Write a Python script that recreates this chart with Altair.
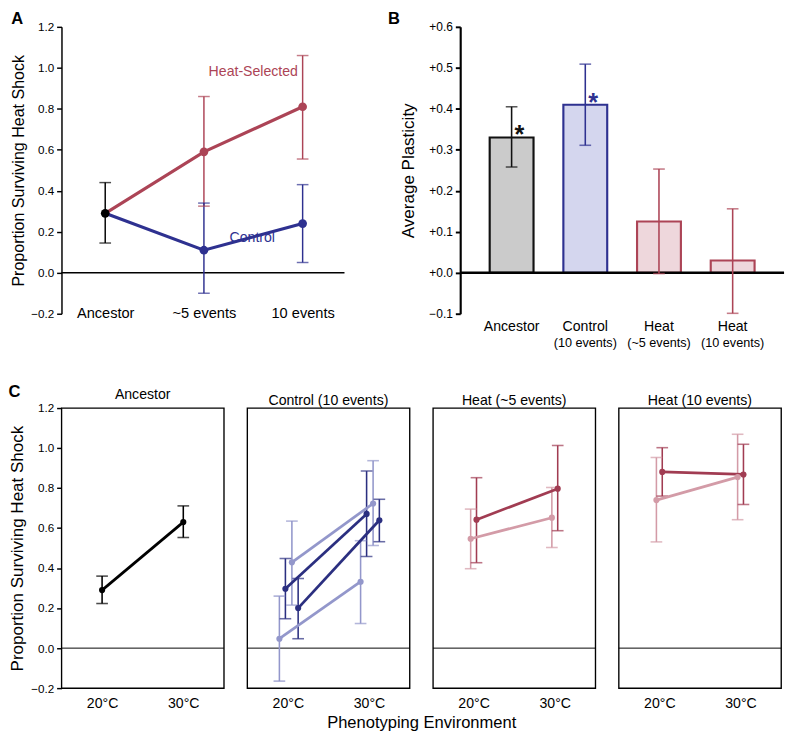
import json
import altair as alt
import pandas as pd

FONT = "Liberation Sans"

# ---------------- Panel A data ----------------
A_STAGES = ["Ancestor", "~5 events", "10 events"]
A_STAGE_IDX = [0, 1, 2]
A_ANC = 0.29
A_ANC_LO, A_ANC_HI = 0.145, 0.44
A_HEAT = [0.29, 0.59, 0.81]
A_HEAT_LO = [0.325, 0.555]
A_HEAT_HI = [0.86, 1.06]
A_CTRL = [0.29, 0.11, 0.24]
A_CTRL_LO = [-0.10, 0.05]
A_CTRL_HI = [0.34, 0.43]
A_NOTE_TEXT = ["Heat-Selected", "Control"]
A_NOTE_GROUP = ["Heat", "Control"]
A_NOTE_X = [1.5, 1.49]
A_NOTE_Y = [0.98, 0.17]
A_YTICKS = [-0.2, 0.0, 0.2, 0.4, 0.6, 0.8, 1.0, 1.2]

# ---------------- Panel B data ----------------
B_GROUPS = ["Ancestor", "Control (10 events)", "Heat (~5 events)", "Heat (10 events)"]
B_KIND = ["Ancestor", "Control", "Heat", "Heat"]
B_SUB = ["", "(10 events)", "(~5 events)", "(10 events)"]
B_VAL = [0.33, 0.41, 0.125, 0.03]
B_LO = [0.258, 0.311, -0.002, -0.099]
B_HI = [0.405, 0.509, 0.253, 0.156]
B_STAR = ["*", "*", "", ""]
B_YTICKS = [-0.1, 0.0, 0.1, 0.2, 0.3, 0.4, 0.5, 0.6]

# ---------------- Panel C data ----------------
C_PANELS = ["Ancestor", "Control (10 events)", "Heat (~5 events)", "Heat (10 events)"]
C_CONDS = ["20°C", "30°C"]
C_LINE_PANEL = ["Ancestor",
                "Control (10 events)", "Control (10 events)",
                "Control (10 events)", "Control (10 events)",
                "Heat (~5 events)", "Heat (~5 events)",
                "Heat (10 events)", "Heat (10 events)"]
C_LINE_SHADE = ["anc", "ctrl_light", "ctrl_light", "ctrl_dark", "ctrl_dark",
                "heat_light", "heat_dark", "heat_light", "heat_dark"]
C_DODGE = [0.0, -0.104, 0.05, -0.03, 0.127, -0.036, 0.036, -0.036, 0.036]
C_20 = [0.29, 0.047, 0.429, 0.297, 0.20, 0.547, 0.642, 0.740, 0.881]
C_20_LO = [0.223, -0.165, 0.215, 0.147, 0.047, 0.397, 0.427, 0.531, 0.760]
C_20_HI = [0.36, 0.26, 0.635, 0.448, 0.348, 0.695, 0.852, 0.953, 1.002]
C_30 = [0.63, 0.332, 0.723, 0.671, 0.639, 0.652, 0.797, 0.855, 0.868]
C_30_LO = [0.553, 0.123, 0.513, 0.458, 0.532, 0.503, 0.587, 0.642, 0.718]
C_30_HI = [0.711, 0.537, 0.937, 0.885, 0.744, 0.803, 1.013, 1.069, 1.019]
C_YTICKS = A_YTICKS

# ---------------- colours ----------------
HEAT_A = "#ac4456"
CTRL_A = "#2e3190"
SHADE_DOMAIN = ["anc", "ctrl_light", "ctrl_dark", "heat_light", "heat_dark"]
SHADE_RANGE = ["#000000", "#9397cb", "#2b2f80", "#d39ba7", "#a13c52"]

# ======================= Panel A =======================
A_W, A_H = 291, 295
a_line_df = pd.DataFrame({
    "stage": A_STAGE_IDX * 2,
    "value": A_HEAT + A_CTRL,
    "group": ["Heat"] * 3 + ["Control"] * 3,
})
a_err_df = pd.DataFrame({
    "stage": [0, 1, 2, 1, 2],
    "lo": [A_ANC_LO] + A_HEAT_LO + A_CTRL_LO,
    "hi": [A_ANC_HI] + A_HEAT_HI + A_CTRL_HI,
    "group": ["Ancestor", "Heat", "Heat", "Control", "Control"],
})
a_pt_df = pd.DataFrame({
    "stage": [1, 2, 1, 2, 0],
    "value": A_HEAT[1:] + A_CTRL[1:] + [A_ANC],
    "group": ["Heat", "Heat", "Control", "Control", "Ancestor"],
})
a_note_df = pd.DataFrame({"x": A_NOTE_X, "y": A_NOTE_Y, "text": A_NOTE_TEXT, "group": A_NOTE_GROUP})
a_zero_df = pd.DataFrame({"z": [0.0]})

a_color = alt.Scale(domain=["Ancestor", "Heat", "Control"], range=["#000000", HEAT_A, CTRL_A])
a_xscale = alt.Scale(domain=[-0.443, 2.424], nice=False, zero=False)
a_xaxis = alt.Axis(values=A_STAGE_IDX,
                   labelExpr=json.dumps(A_STAGES) + "[datum.value]",
                   ticks=False, tickSize=0, domain=False, grid=False,
                   labelFontSize=15, labelPadding=-1, labelBaseline="middle")
a_yscale = alt.Scale(domain=[-0.2, 1.2], nice=False, zero=False)
a_yaxis = alt.Axis(values=A_YTICKS, format=".1f", grid=False,
                   title="Proportion Surviving Heat Shock", titleFontSize=16.5,
                   titleFontWeight="normal", titlePadding=4,
                   labelFontSize=12, labelPadding=3, tickSize=5, tickWidth=1.5,
                   domainWidth=1.5)


def ax(field):
    return alt.X(field, scale=a_xscale, axis=a_xaxis, title=None)


def ay(field):
    return alt.Y(field, scale=a_yscale, axis=a_yaxis)


a_col = alt.Color("group:N", scale=a_color, legend=None)
a_base = alt.Chart(a_err_df)
a_zero = alt.Chart(a_zero_df).mark_rule(color="black", strokeWidth=1.3).encode(y=ay("z:Q"))
a_err = a_base.mark_rule(strokeWidth=1.5).encode(x=ax("stage:Q"), y=ay("lo:Q"), y2="hi:Q", color=a_col)
a_cap_lo = a_base.mark_tick(orient="horizontal", size=12, thickness=1.5).encode(
    x=ax("stage:Q"), y=ay("lo:Q"), color=a_col)
a_cap_hi = a_base.mark_tick(orient="horizontal", size=12, thickness=1.5).encode(
    x=ax("stage:Q"), y=ay("hi:Q"), color=a_col)
a_lines = alt.Chart(a_line_df).mark_line(strokeWidth=3.2).encode(
    x=ax("stage:Q"), y=ay("value:Q"), detail="group:N", color=a_col)
a_pts = alt.Chart(a_pt_df).mark_circle(size=80, opacity=1).encode(
    x=ax("stage:Q"), y=ay("value:Q"), color=a_col)
a_notes = alt.Chart(a_note_df).mark_text(fontSize=14.5, font=FONT).encode(
    x=ax("x:Q"), y=ay("y:Q"), text="text:N", color=a_col)

panel_a = alt.layer(a_zero, a_err, a_cap_lo, a_cap_hi, a_lines, a_pts, a_notes).properties(
    width=A_W, height=A_H,
    title=alt.TitleParams("A", anchor="start", frame="bounds", fontSize=17,
                          fontWeight="bold", offset=-7))

# ======================= Panel B =======================
B_W, B_H = 333, 295
b_df = pd.DataFrame({"group": B_GROUPS, "kind": B_KIND, "sub": B_SUB,
                     "value": B_VAL, "lo": B_LO, "hi": B_HI, "star": B_STAR})
b_fill = alt.Scale(domain=["Ancestor", "Control", "Heat"], range=["#cbcbcb", "#d4d6ee", "#eed7dc"])
b_stroke = alt.Scale(domain=["Ancestor", "Control", "Heat"], range=["#111111", CTRL_A, HEAT_A])
b_xscale = alt.Scale(domain=B_GROUPS, paddingInner=0.405, paddingOuter=0.40)
b_xaxis = alt.Axis(labelExpr="split(datum.label, ' (')[0]", ticks=False, tickSize=0,
                   domain=False, grid=False, labelAngle=0, labelFontSize=14.5,
                   labelPadding=6)
b_yscale = alt.Scale(domain=[-0.1, 0.6], nice=False, zero=False)
b_yaxis = alt.Axis(values=B_YTICKS, grid=False,
                   labelExpr="datum.value >= 0 ? '+' + format(datum.value, '.1f') : format(datum.value, '.1f')",
                   title="Average Plasticity", titleFontSize=17.5, titleFontWeight="normal",
                   titlePadding=12, labelFontSize=12.3, labelPadding=3, tickSize=5,
                   tickWidth=2, domainWidth=2.2)


def bx():
    return alt.X("group:N", sort=B_GROUPS, scale=b_xscale, axis=b_xaxis, title=None)


def by(field):
    return alt.Y(field, scale=b_yscale, axis=b_yaxis)


b_col = alt.Color("kind:N", scale=b_stroke, legend=None)
b_base = alt.Chart(b_df)
b_bars = b_base.mark_bar(strokeWidth=2.2).encode(
    x=bx(), y=by("value:Q"), y2=alt.datum(0),
    fill=alt.Fill("kind:N", scale=b_fill, legend=None),
    stroke=alt.Stroke("kind:N", scale=b_stroke, legend=None))
b_zero = alt.Chart(pd.DataFrame({"z": [0.0]})).mark_rule(color="black", strokeWidth=2.4).encode(
    y=by("z:Q"))
b_err = b_base.mark_rule(strokeWidth=1.6).encode(x=bx(), y=by("lo:Q"), y2="hi:Q", color=b_col)
b_cap_lo = b_base.mark_tick(orient="horizontal", size=12, thickness=1.6).encode(
    x=bx(), y=by("lo:Q"), color=b_col)
b_cap_hi = b_base.mark_tick(orient="horizontal", size=12, thickness=1.6).encode(
    x=bx(), y=by("hi:Q"), color=b_col)
b_stars = b_base.transform_filter("datum.star != ''").mark_text(
    fontSize=26, fontWeight="bold", dx=8, dy=6, baseline="alphabetic", font=FONT).encode(
    x=bx(), y=by("value:Q"), text="star:N", color=b_col)
b_subs = b_base.transform_filter("datum.sub != ''").mark_text(
    fontSize=13, baseline="middle", font=FONT, color="black").encode(
    x=bx(), y=alt.value(B_H + 30), text="sub:N")

panel_b = alt.layer(b_bars, b_zero, b_err, b_cap_lo, b_cap_hi, b_stars, b_subs).properties(
    width=B_W, height=B_H,
    title=alt.TitleParams("B", anchor="start", frame="bounds", fontSize=17,
                          fontWeight="bold", offset=-7, dx=-12))

# ======================= Panel C =======================
C_W, C_H = 167, 288
rows = []
for i in range(len(C_LINE_PANEL)):
    for j, (v, lo, hi) in enumerate([(C_20[i], C_20_LO[i], C_20_HI[i]),
                                      (C_30[i], C_30_LO[i], C_30_HI[i])]):
        rows.append({"panel": C_LINE_PANEL[i], "series": f"s{i}", "shade": C_LINE_SHADE[i],
                     "x": (j + 1) + C_DODGE[i], "value": v, "lo": lo, "hi": hi})
c_df = pd.DataFrame(rows)
c_color = alt.Scale(domain=SHADE_DOMAIN, range=SHADE_RANGE)
c_xscale = alt.Scale(domain=[0.5, 2.5], nice=False, zero=False)
c_xaxis = alt.Axis(values=[1, 2],
                   labelExpr="datum.value == 1 ? " + json.dumps(C_CONDS[0]) + " : " + json.dumps(C_CONDS[1]),
                   ticks=False, tickSize=0, domain=False, grid=False,
                   labelFontSize=14.5, labelPadding=9)
c_yscale = alt.Scale(domain=[-0.2, 1.2], nice=False, zero=False)
c_yaxis = alt.Axis(values=C_YTICKS, format=".1f", grid=False, domain=False,
                   title="Proportion Surviving Heat Shock", titleFontSize=17.5,
                   titleFontWeight="normal", titlePadding=4,
                   labelFontSize=12, labelPadding=3, tickSize=5, tickWidth=1.5)


def make_panel(name, first):
    d = c_df[c_df["panel"] == name]

    def cx(field):
        return alt.X(field, scale=c_xscale, axis=c_xaxis, title=None)

    def cy(field):
        if first:
            return alt.Y(field, scale=c_yscale, axis=c_yaxis)
        return alt.Y(field, scale=c_yscale, axis=None)

    col = alt.Color("shade:N", scale=c_color, legend=None)
    base = alt.Chart(d)
    zero = alt.Chart(pd.DataFrame({"z": [0.0]})).mark_rule(color="black", strokeWidth=1).encode(
        y=cy("z:Q"))
    err = base.mark_rule(strokeWidth=1.6).encode(x=cx("x:Q"), y=cy("lo:Q"), y2="hi:Q", color=col)
    cap_lo = base.mark_tick(orient="horizontal", size=12, thickness=1.6).encode(
        x=cx("x:Q"), y=cy("lo:Q"), color=col)
    cap_hi = base.mark_tick(orient="horizontal", size=12, thickness=1.6).encode(
        x=cx("x:Q"), y=cy("hi:Q"), color=col)
    line = base.mark_line(strokeWidth=2.8).encode(
        x=cx("x:Q"), y=cy("value:Q"), detail="series:N", color=col)
    pts = base.mark_circle(size=40, opacity=1).encode(x=cx("x:Q"), y=cy("value:Q"), color=col)
    return alt.layer(zero, err, cap_lo, cap_hi, line, pts).properties(
        width=C_W, height=C_H,
        view=alt.ViewBackground(stroke="black", strokeWidth=1.4, strokeOpacity=1),
        title=alt.TitleParams(name, fontSize=14.5, fontWeight="normal", offset=0))


c_row = alt.hconcat(*[make_panel(n, k == 0) for k, n in enumerate(C_PANELS)], spacing=20).properties(
    title=alt.TitleParams("Phenotyping Environment", orient="bottom", anchor="middle",
                          fontSize=17, fontWeight="normal", offset=5, dx=27)
).resolve_scale(color="independent")
panel_c = alt.vconcat(c_row).properties(
    title=alt.TitleParams("C", anchor="start", frame="bounds", fontSize=17,
                          fontWeight="bold", offset=-15)
).resolve_scale(color="independent")

top = alt.hconcat(panel_a, panel_b, spacing=43).resolve_scale(
    color="independent", fill="independent", stroke="independent")
chart = alt.vconcat(top, panel_c, spacing=34).resolve_scale(
    color="independent", fill="independent", stroke="independent"
).properties(
    padding={"left": 0, "top": -8, "right": 0, "bottom": 0}
).configure_axis(
    labelFont=FONT, titleFont=FONT, labelColor="black", titleColor="black",
    domainColor="black", tickColor="black", grid=False
).configure_title(font=FONT, color="black").configure_view(strokeOpacity=0)

chart.save("out.html", embed_options={"renderer": "svg", "actions": False})
